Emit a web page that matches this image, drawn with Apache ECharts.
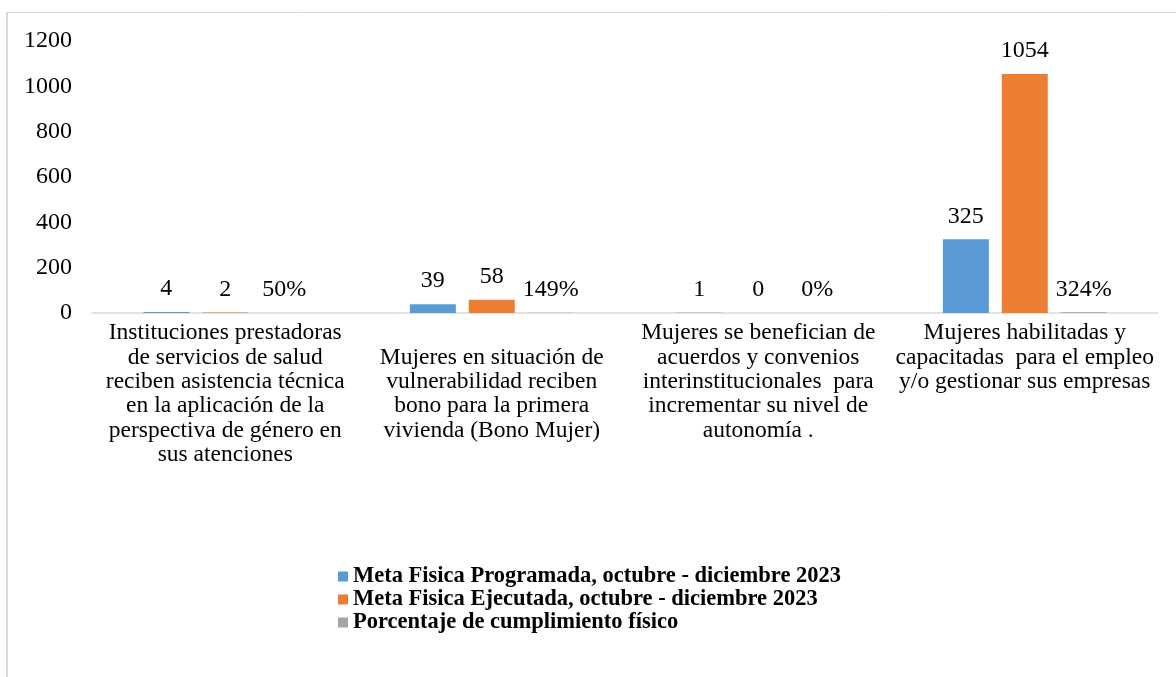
<!DOCTYPE html>
<html>
<head>
<meta charset="utf-8">
<script src="https://cdn.jsdelivr.net/npm/echarts@6/dist/echarts.min.js"></script>
<style>
	html, body { margin: 0; padding: 0; background: #fff; }
	#chart { width: 1176px; height: 677px; }
</style>
</head>
<body>
<div id="chart"></div>
<script>
const categories = [
	'Instituciones prestadoras\nde servicios de salud\nreciben asistencia técnica\nen la aplicación de la\nperspectiva de género en\nsus atenciones',
	'\nMujeres en situación de\nvulnerabilidad reciben\nbono para la primera\nvivienda (Bono Mujer)',
	'Mujeres se benefician de\nacuerdos y convenios\ninterinstitucionales  para\nincrementar su nivel de\nautonomía .',
	'Mujeres habilitadas y\ncapacitadas  para el empleo\ny/o gestionar sus empresas'
]
const seriesNames = [
	'Meta Fisica Programada, octubre - diciembre 2023',
	'Meta Fisica Ejecutada, octubre - diciembre 2023',
	'Porcentaje de cumplimiento físico'
]
const programada = [4, 39, 1, 325]
const ejecutada = [2, 58, 0, 1054]
// cumplimiento as a fraction, labelled as percent
const cumplimiento = [0.5, 1.49, 0, 3.24]
const yTicks = [0, 200, 400, 600, 800, 1000, 1200]

const colors = ['#5B9BD5', '#ED7D31', '#A5A5A5']
const font = '"Liberation Serif", "Times New Roman", serif'

const chart = echarts.init(document.getElementById('chart'))

const labelStyle = {
	show: true,
	position: 'top',
	distance: 11,
	fontFamily: font,
	fontSize: 24,
	color: '#000'
}

const option = {
	animation: false,
	textStyle: { fontFamily: font },
	graphic: [
		{ type: 'line', shape: { x1: 7, y1: 12.5, x2: 1200, y2: 12.5 }, style: { stroke: '#d9d9d9', lineWidth: 1 } },
		{ type: 'line', shape: { x1: 7, y1: 12, x2: 7, y2: 700 }, style: { stroke: '#d9d9d9', lineWidth: 2 } }
	],
	grid: { left: 92, right: 18, top: 41, bottom: 364 },
	legend: {
		orient: 'vertical',
		left: 333,
		top: 560,
		itemWidth: 10,
		itemHeight: 10,
		itemGap: 0,
		icon: 'rect',
		textStyle: { fontFamily: font, fontSize: 22.5, fontWeight: 'bold', color: '#000', lineHeight: 22.5 },
		data: seriesNames
	},
	xAxis: {
		type: 'category',
		data: categories,
		axisLine: { lineStyle: { color: '#d9d9d9', width: 1.5 } },
		axisTick: { show: false },
		axisLabel: {
			interval: 0,
			margin: 8,
			fontFamily: font,
			fontSize: 23.5,
			lineHeight: 24.3,
			color: '#000',
			align: 'center',
			verticalAlign: 'top'
		}
	},
	yAxis: {
		type: 'value',
		min: 0,
		max: 1200,
		interval: 200,
		axisLine: { show: false },
		axisTick: { show: false },
		splitLine: { show: false },
		axisLabel: {
			margin: 20,
			fontFamily: font,
			fontSize: 24,
			color: '#000',
			formatter: v => yTicks.includes(v) ? String(v) : ''
		}
	},
	series: [
		{
			name: seriesNames[0],
			type: 'bar',
			data: programada,
			barWidth: 46,
			barGap: '28%',
			itemStyle: { color: colors[0] },
			label: labelStyle
		},
		{
			name: seriesNames[1],
			type: 'bar',
			data: ejecutada,
			barWidth: 46,
			barGap: '28%',
			itemStyle: { color: colors[1] },
			label: labelStyle
		},
		{
			name: seriesNames[2],
			type: 'bar',
			data: cumplimiento,
			barWidth: 46,
			barGap: '28%',
			itemStyle: { color: colors[2] },
			label: Object.assign({}, labelStyle, {
				formatter: p => Math.round(p.value * 100) + '%'
			})
		}
	]
}

chart.setOption(option)
</script>
</body>
</html>
